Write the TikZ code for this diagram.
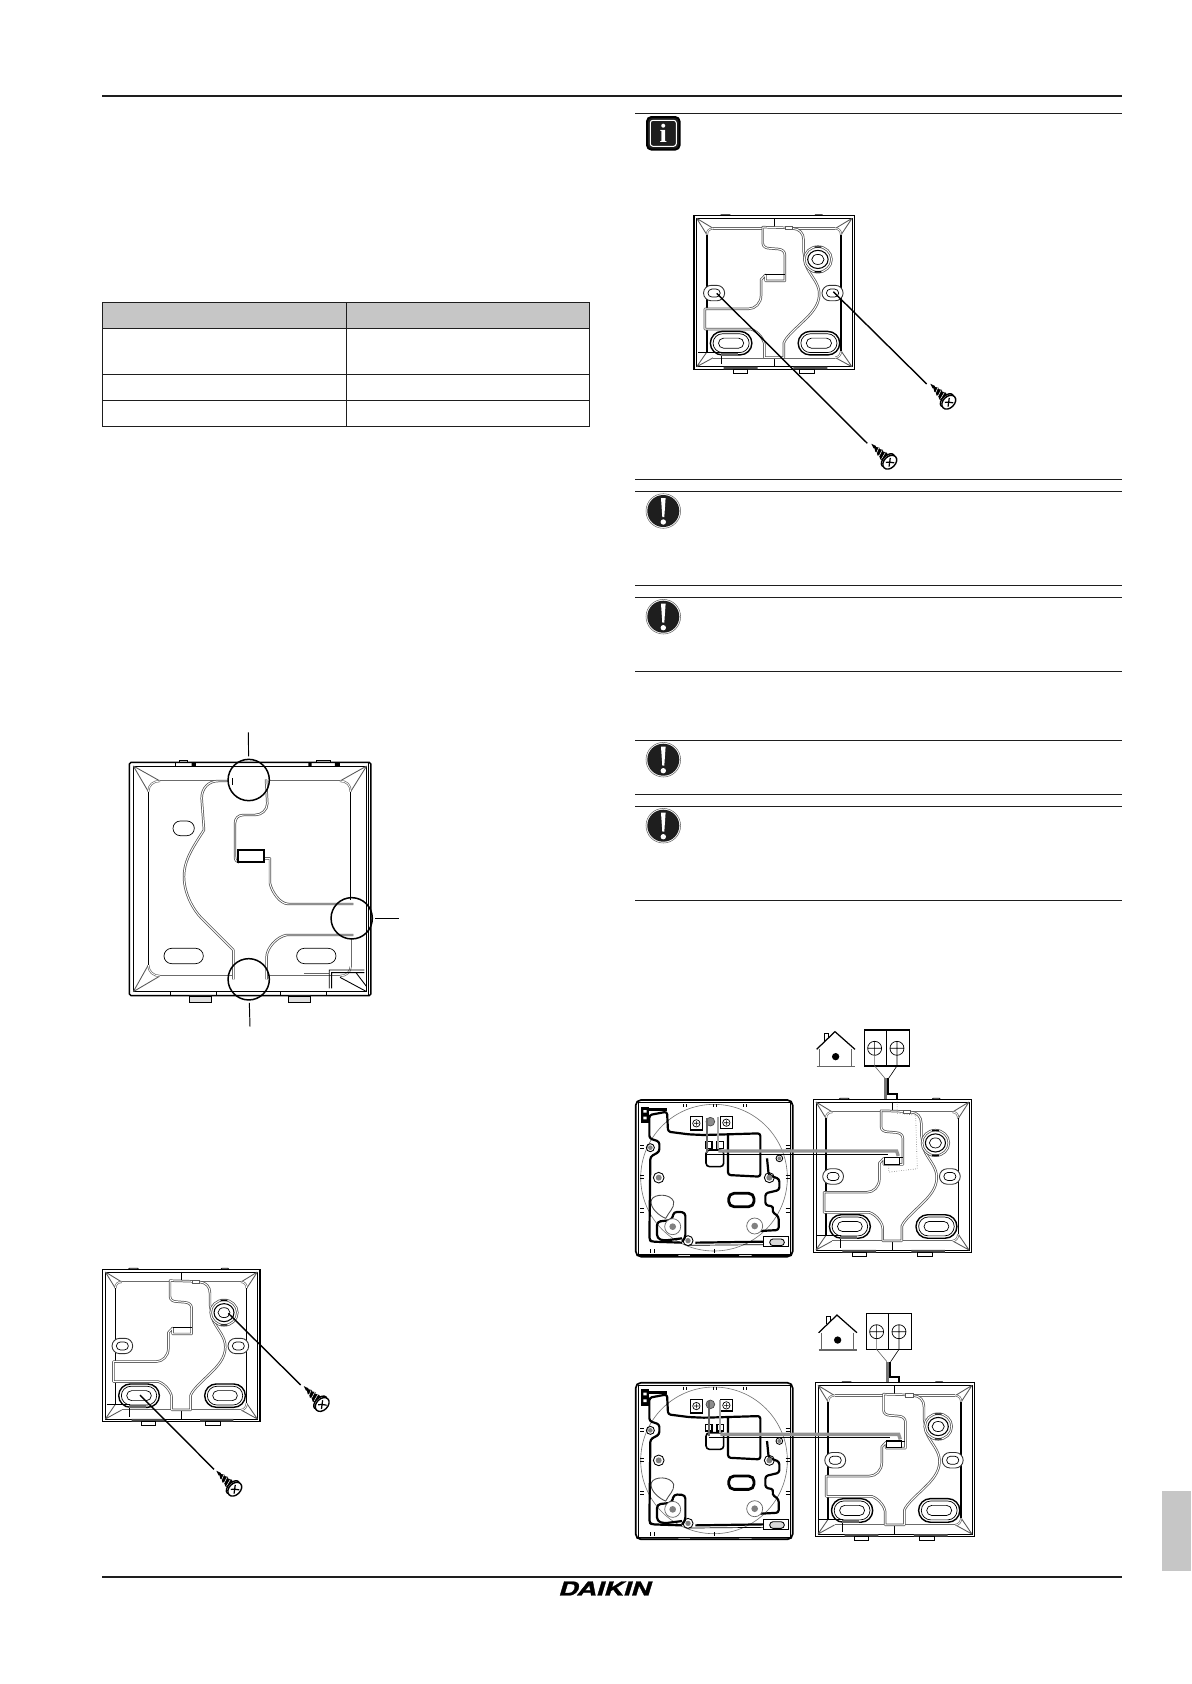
\documentclass[tikz,border=0pt]{standalone}
\usepackage{fontspec}
\newfontfamily\logofont{TeX Gyre Heros}[BoldItalicFeatures={FakeBold=1.2}]
\newfontfamily\glyphfont{Liberation Serif}
\definecolor{headgray}{HTML}{C6C6C6}
\definecolor{inkdark}{HTML}{1E1E1E}
\newcommand{\slotpath}[4]{(#1-#3,#2-#4) -- (#1+#3,#2-#4) arc[start angle=-90,end angle=90,radius=#4] -- (#1-#3,#2+#4) arc[start angle=90,end angle=270,radius=#4] -- cycle}
\tikzset{
	rule/.style={inkdark,line width=.6pt},
	cell/.style={inkdark,line width=.6pt},
	channel/.style={draw=black!68,double=white,double distance=.55pt,line width=.42pt,line join=round},
	panel/.style={draw=black!58,double=white,double distance=.45pt,line width=.38pt,line join=round},
	edge/.style={black,line width=.85pt},
	thin line/.style={black,line width=.4pt},
	pcbline/.style={black,line width=1.25pt,line join=round},
	callout/.style={circle,draw,black,line width=.85pt,minimum size=.826cm,inner sep=0pt,outer sep=.06cm},
	leader/.style={black,line width=.55pt},
	screwline/.style={black,line width=.8pt},
	plateback/.pic={
		\draw[edge] (0,0) rectangle (472,457);
		\draw[thin line] (8,8) rectangle (464,449);
		\draw[thin line] (77,0) -- (80,-3) -- (105,-3) -- (108,0) (354,0) -- (357,-3) -- (376,-3) -- (379,0);
		\fill[black!70] (87,449) rectangle (187,457) (292,449) rectangle (392,457);
		\draw[thin line,fill=white] (117,457) rectangle (157,469) (309,457) rectangle (354,469);
		\draw[thin line] (235,8) -- (235,34) (235,422) -- (235,449);
		% corner wedges
		\draw[black!65,line width=.5pt] (8,8) -- (57,38) (8,8) -- (38,57) (464,8) -- (415,38) (464,8) -- (432,57);
		\draw[black!65,line width=.5pt] (8,449) -- (57,422) (8,449) -- (38,405) (464,449) -- (415,422) (464,449) -- (432,402);
		% panel
		\draw[panel] (57,38) -- (202,38) (290,38) -- (415,38) (57,422) -- (415,422);
		\draw[panel] (38,57) .. controls (38,45) and (45,38) .. (57,38) (415,38) .. controls (425,38) and (432,45) .. (432,57);
		\draw[panel] (432,402) .. controls (432,412) and (425,422) .. (415,422);
		\draw[black,line width=.8pt] (38,57) -- (38,277) (38,337) -- (38,405) (432,57) -- (432,402);
		% channel
		\draw[channel,fill=white] (202,34) -- (202,82) .. controls (202,92) and (212,97) .. (222,97) -- (247,99) .. controls (260,100) and (267,107) .. (267,117) -- (267,194) -- (210,194) -- (210,176) -- (197,190) -- (197,237) .. controls (197,260) and (180,277) .. (160,277) -- (32,277) -- (32,337) -- (167,337) .. controls (190,345) and (207,370) .. (207,385) -- (207,422) -- (264,422) -- (264,378) .. controls (270,360) and (300,335) .. (330,305) .. controls (355,280) and (372,255) .. (367,222) .. controls (362,195) and (340,175) .. (330,150) -- (322,107) -- (322,72) .. controls (322,52) and (310,39) .. (290,38) -- (270,36) -- cycle;
		\draw[thin line] (210,174) -- (267,174);
		\draw[black!65,line width=.4pt,fill=white] (268,32) rectangle (290,42);
		% bosses
		\draw[channel,fill=white] (364,130) ellipse[x radius=40,y radius=38];
		\draw[black,line width=.6pt] (364,130) ellipse[x radius=30,y radius=27];
		\draw[thin line] (364,130) ellipse[x radius=18,y radius=15];
		\fill[black] (354,91) rectangle (374,95) (354,165) rectangle (374,169);
		\draw[black,line width=.8pt,fill=white] \slotpath{109}{379}{26}{35};
		\draw[thin line] \slotpath{109}{379}{25}{28} \slotpath{109}{379}{22}{15};
		\draw[black,line width=.8pt,fill=white] \slotpath{367}{379}{26}{35};
		\draw[thin line] \slotpath{367}{379}{25}{28} \slotpath{367}{379}{22}{15};
		\draw[black!80,line width=.5pt,fill=white] \slotpath{59}{230}{8}{23};
		\draw[thin line] \slotpath{59}{230}{6}{12};
		\draw[black!80,line width=.5pt,fill=white] \slotpath{407}{230}{8}{23};
		\draw[thin line] \slotpath{407}{230}{6}{12};
		% lower left latch
		\draw[thin line] (12,405) -- (80,405);
		\draw[black,line width=.7pt] (80,405) -- (80,442);
		\fill[black!60] (80,408) rectangle (130,417);
	},
	pcbboard/.pic={
		\draw[black,line width=.95pt,rounded corners=3pt] (0,0) rectangle (471,470);
		\draw[thin line] (8,7) rectangle (463,463);
		\draw[black!55,line width=.35pt] (235,233) circle (220);
		\fill[black] (3,463) rectangle (128,468) (163,463) rectangle (310,468) (348,463) rectangle (468,468);
		% edge ticks
		\draw[black,line width=.5pt] (143,12) -- (143,22) (152,12) -- (152,22) (232,12) -- (232,22) (241,12) -- (241,22) (322,12) -- (322,22) (331,12) -- (331,22);
		\draw[black,line width=.5pt] (14,136) -- (26,136) (14,146) -- (26,146) (14,226) -- (26,226) (14,236) -- (26,236) (14,326) -- (26,326) (14,336) -- (26,336);
		\draw[black,line width=.5pt] (450,136) -- (462,136) (450,146) -- (462,146) (450,226) -- (462,226) (450,236) -- (462,236) (450,326) -- (462,326) (450,336) -- (462,336);
		\draw[black,line width=.5pt] (45,448) -- (45,460) (56,448) -- (56,460) (235,448) -- (235,460);
		% board outline
		\draw[pcbline,rounded corners=1.5pt] (139,428) -- (49,425) -- (41,420) -- (44,170) -- (71,155) -- (71,125) -- (41,115) -- (41,45) -- (94,35) -- (97,95) -- (159,103) -- (204,105) -- (274,103) -- (374,100) -- (374,230) -- (277,225) -- (277,107);
		\draw[pcbline,rounded corners=1.5pt] (394,175) -- (399,225) -- (431,237) -- (431,270) -- (389,280) -- (389,315) -- (414,320) -- (409,335) -- (429,350) -- (429,390) -- (374,393);
		\draw[pcbline] (179,428) -- (384,425);
		\draw[black,line width=.4pt] (160,436) -- (384,434);
		\draw[pcbline,rounded corners=2pt] (139,415) -- (84,422) -- (64,415) -- (64,365) -- (109,360) -- (114,335) -- (149,337) -- (149,415) -- (139,425);
		\draw[black,line width=1.6pt,rounded corners=3pt] (279,280) rectangle (355,320);
		\draw[black!70,line width=.5pt,fill=white] (47,300) .. controls (55,280) and (105,280) .. (114,305) .. controls (116,325) and (100,335) .. (90,355) .. controls (75,350) and (40,325) .. (47,300);
		% terminals
		\draw[black,line width=.9pt,fill=white] (164,50) rectangle (201,90) (254,50) rectangle (291,85);
		\draw[thin line] (182,70) circle (11) (272,68) circle (11) (175,70) -- (189,70) (182,63) -- (182,77) (265,68) -- (279,68) (272,61) -- (272,75);
		\draw[black!70,fill=black!45,line width=.4pt] (224,65) circle (13);
		\fill[black] (17,20) rectangle (39,70);
		\fill[white] (23,30) rectangle (33,38) (23,50) rectangle (33,58);
		\fill[black] (39,25) rectangle (94,33);
		% bosses with screws
		\draw[black!60,line width=.4pt,fill=white] (111,380) circle (24) (357,378) circle (24);
		\fill[black!50] (111,380) circle (10) (357,378) circle (10) (69,233) circle (9) (401,233) circle (9) (44,143) circle (7) (431,175) circle (6) (157,422) circle (8);
		\draw[black,line width=.5pt] (69,233) circle (16) (401,233) circle (15) (44,143) circle (12) (431,175) circle (10) (157,422) circle (15);
		% connector
		\draw[black,line width=.8pt,fill=white] (209,125) rectangle (229,145) (244,125) rectangle (264,145);
		\draw[black,line width=.9pt,fill=white,rounded corners=2pt] (211,150) rectangle (264,200);
		\draw[thin line] (384,410) rectangle (459,440);
		\draw[black,line width=.5pt,fill=black!15] \slotpath{424}{427}{12}{10};
	},
	feedset/.pic={
		\draw[black,line width=.7pt] (10,-150) -- (65,-203) -- (125,-150);
		\draw[black,line width=.5pt] (32,-175) -- (32,-198) -- (45,-198) -- (45,-185);
		\draw[black!60,line width=.5pt] (18,-150) -- (18,-98) (115,-150) -- (115,-98);
		\draw[black!60,line width=.7pt] (10,-98) -- (125,-98);
		\fill[black] (67,-128) circle (11);
		\draw[black,line width=.6pt] (153,-208) rectangle (288,-100) (220,-208) -- (220,-100);
		\draw[thin line] (184,-153) circle (21) (251,-153) circle (21) (163,-153) -- (205,-153) (184,-174) -- (184,-132) (230,-153) -- (272,-153) (251,-174) -- (251,-132);
		\draw[black!60,line width=.35pt] (184,-132) -- (184,-100) -- (215,-63);
		\draw[black,line width=.35pt] (251,-132) -- (251,-100) -- (226,-63);
		\draw[black!55,line width=1.3pt] (217,-63) -- (217,-2);
		\draw[black,line width=1.1pt] (224,-63) -- (224,-17) -- (250,-17) -- (250,1);
		\draw[black,line width=.8pt,fill=white] (213,175) rectangle (258,195);
		\draw[black!60,line width=1pt] (-320,55) -- (-320,160);
		\draw[black!35,line width=1pt] (-285,52) -- (-285,150);
		\draw[black!42,line width=1.9pt] (-285,155) -- (250,155) -- (255,170);
		\draw[black,line width=.8pt] (-320,165) -- (225,165);
	},
	screw/.pic={
		\fill[black] (-76,0) -- (-62,-5) -- (-60,-3) -- (-50,-9) -- (-48,-6) -- (-38,-12) -- (-36,-8) -- (-24,-14) -- (-12,-9) -- (-12,9) -- (-24,14) -- (-36,8) -- (-38,12) -- (-48,6) -- (-50,9) -- (-60,3) -- (-62,5) -- cycle;
		\draw[white,line width=.3pt] (-52,-7) -- (-46,7) (-40,-10) -- (-34,9) (-28,-11) -- (-22,11);
		\draw[black,line width=.8pt,fill=white] (-6,0) ellipse[x radius=14,y radius=24];
		\draw[black,line width=.8pt,fill=white] (2,0) ellipse[x radius=17,y radius=24];
		\draw[black,line width=.7pt] (-6,-10) -- (10,11) (-6,9) -- (2,0) (2,0) -- (13,-8);
	},
	notice/.pic={
		\draw[black!60,line width=.3pt] (0,0) circle (17.3);
		\fill[inkdark] (0,0) circle (16);
		\fill[white] (-2.3,-13) -- (2.3,-13) -- (1,6) -- (-1,6) -- cycle;
		\fill[white] (0,11) circle (2.7);
	}
}
\begin{document}
\begin{tikzpicture}[x=.02cm,y=-.02cm]
	\path[fill=white,use as bounding box] (0,0) rectangle (1191,1684);
	\draw[rule] (102,96) -- (1122,96);
	\draw[rule] (102,1577) -- (1122,1577);
	\fill[headgray] (1162,1491) rectangle (1191,1571);
	\node[inner sep=0pt,xscale=1.22,yscale=.86] (logoDaikin) at (605,1588.5) {\logofont\bfseries\itshape\fontsize{12.6}{12.6}\selectfont DAIKIN};
	% table
	\fill[headgray] (102.5,302.3) rectangle (589.3,328.3);
	\draw[cell] (102.5,302.3) rectangle (589.3,426.3);
	\draw[cell] (102.5,328.3) -- (589.3,328.3) (102.5,374.3) -- (589.3,374.3) (102.5,400.3) -- (589.3,400.3) (346.7,302.3) -- (346.7,426.3);
	% notes
	\draw[rule] (635,113.3) -- (1122,113.3);
	\draw[rule] (635,479.3) -- (1122,479.3);
	\draw[rule] (635,491.3) -- (1122,491.3);
	\draw[rule] (635,585.3) -- (1122,585.3);
	\draw[rule] (635,597.3) -- (1122,597.3);
	\draw[rule] (635,671.3) -- (1122,671.3);
	\draw[rule] (635,740.3) -- (1122,740.3);
	\draw[rule] (635,794.3) -- (1122,794.3);
	\draw[rule] (635,806.3) -- (1122,806.3);
	\draw[rule] (635,900.3) -- (1122,900.3);
	\draw[black,line width=1.1pt,rounded corners=2.5pt,fill=inkdark] (647,117) rectangle (679.6,149.6);
	\draw[white,line width=.6pt,rounded corners=1.5pt] (650.3,120.3) rectangle (676.3,146.3);
	\node[text=white,inner sep=0pt] (infoGlyph) at (663.3,133.5) {\glyphfont\bfseries\fontsize{15}{15}\selectfont i};
	\pic at (663.3,511) {notice};
	\pic at (663.3,616.7) {notice};
	\pic at (663.3,759.7) {notice};
	\pic at (663.3,825.7) {notice};
	% plate with the three knock-out rings
	\begin{scope}[shift={(80,700)},scale=.3333]
		\draw[edge,rounded corners=1pt] (148,187) rectangle (873,887);
		\draw[thin line] (160,198) rectangle (860,875) (865,187) -- (865,887);
		\draw[thin line] (285,198) -- (285,187) (345,198) -- (345,187) (297,187) -- (297,181) -- (322,181) -- (322,187) (708,187) -- (708,181) -- (750,181) -- (750,187);
		\fill[black] (335,187) rectangle (345,198) (685,187) rectangle (695,198) (765,187) rectangle (780,198);
		\draw[thin line] (270,875) -- (270,888) (410,875) -- (410,888) (600,875) -- (600,888) (740,875) -- (740,888);
		\draw[thin line,fill=black!12] (328,888) rectangle (395,908) (626,888) rectangle (692,908);
		\draw[black!65,line width=.5pt] (160,198) -- (240,243) (160,198) -- (205,275) (860,198) -- (780,243) (860,198) -- (812,275) (160,875) -- (240,828) (160,875) -- (205,795);
		\draw[panel] (240,243) -- (415,243) (570,243) -- (780,243) (240,828) -- (460,828) (560,828) -- (780,828);
		\draw[panel] (205,275) .. controls (205,255) and (220,243) .. (240,243) (780,243) .. controls (800,243) and (812,255) .. (812,275) (205,795) .. controls (205,815) and (220,828) .. (240,828) (780,828) .. controls (800,828) and (812,815) .. (812,800);
		\draw[black,line width=.9pt] (205,275) -- (205,795) (812,275) -- (812,600);
		\draw[panel] (812,715) -- (812,800);
		% channel
		\draw[channel] (445,243) -- (415,243) .. controls (385,243) and (365,265) .. (365,295) -- (372,390) .. controls (340,440) and (312,480) .. (312,530) .. controls (312,580) and (340,630) .. (365,655) -- (460,750) -- (460,838);
		\draw[channel] (558,238) -- (562,310) .. controls (562,330) and (545,345) .. (525,345) -- (490,345) .. controls (475,345) and (465,355) .. (465,370) -- (465,470) .. controls (465,480) and (470,487) .. (478,487);
		\draw[channel] (555,475) -- (570,475) -- (570,550) .. controls (575,575) and (600,612) .. (625,612) -- (820,612);
		\draw[channel] (820,705) -- (620,705) .. controls (590,710) and (560,745) .. (560,770) -- (560,838);
		\draw[thin line] (458,235) -- (458,255);
		\draw[black,line width=1pt] (475,450) rectangle (552,487);
		% slots
		\draw[thin line] \slotpath{311}{385}{10}{22} \slotpath{311}{768}{36}{23} \slotpath{709}{768}{36}{23};
		% latch
		\draw[black!60,line width=.6pt] (672,820) -- (748,820);
		\draw[black,line width=.5pt] (853,810) -- (748,810) -- (748,865) (755,865) -- (755,818) -- (853,818) (828,818) -- (860,860) (780,832) -- (860,875);
	\end{scope}
	\node[callout] (ringTop) at (248.7,780) {};
	\node[callout] (ringSide) at (351.7,918.3) {};
	\node[callout] (ringBottom) at (248.7,979.3) {};
	\coordinate (leadTop) at (248.4,732.3);
	\coordinate (leadSide) at (399,918.3);
	\coordinate (leadBottom) at (250,1026.7);
	\draw[leader] (ringTop) -- (leadTop);
	\draw[leader] (ringSide) -- (leadSide);
	\draw[leader] (ringBottom) -- (leadBottom);
	% plate with screws, lower left
	\pic[xscale=.3333,yscale=.3333] at (102.7,1269.3) {plateback};
	\coordinate (holeA) at (228.3,1313.3);
	\coordinate (tipA) at (300.7,1385);
	\coordinate (holeB) at (140,1395);
	\coordinate (tipB) at (214,1469.3);
	\draw[screwline] (holeA) -- (tipA);
	\draw[screwline] (holeB) -- (tipB);
	\pic[rotate=-45,scale=.3333] at (321.7,1404) {screw};
	\pic[rotate=-45,scale=.3333] at (234.3,1488.7) {screw};
	% plate with screws, upper right
	\pic[xscale=.3404,yscale=.3363] at (694,215.7) {plateback};
	\coordinate (holeC) at (833.3,291.7);
	\coordinate (tipC) at (926.7,384);
	\coordinate (holeD) at (716.7,293.3);
	\coordinate (tipD) at (867.3,443.3);
	\draw[screwline] (holeC) -- (tipC);
	\draw[screwline] (holeD) -- (tipD);
	\pic[rotate=-45,scale=.3333] at (948.3,401.7) {screw};
	\pic[rotate=-45,scale=.3333] at (889.3,461.7) {screw};
	% first wiring set
	\pic[scale=.3333] at (635.7,1100) {pcbboard};
	\pic[xscale=.3355,yscale=.3355] at (813.3,1099.3) {plateback};
	\begin{scope}[shift={(813.3,1099.3)},scale=.3355]
		\draw[black!55,line width=.35pt,densely dotted] (250,0) -- (250,42) -- (305,47) -- (310,207) -- (225,217) -- (225,195);
	\end{scope}
	\pic[xscale=.3333,yscale=.3333] at (813.3,1099.3) {feedset};
	% second wiring set
	\pic[scale=.3333] at (635.7,1382.7) {pcbboard};
	\pic[xscale=.3376,yscale=.337] at (815.3,1382.7) {plateback};
	\pic[xscale=.3333,yscale=.3333] at (815.3,1382.7) {feedset};
\end{tikzpicture}
\end{document}
